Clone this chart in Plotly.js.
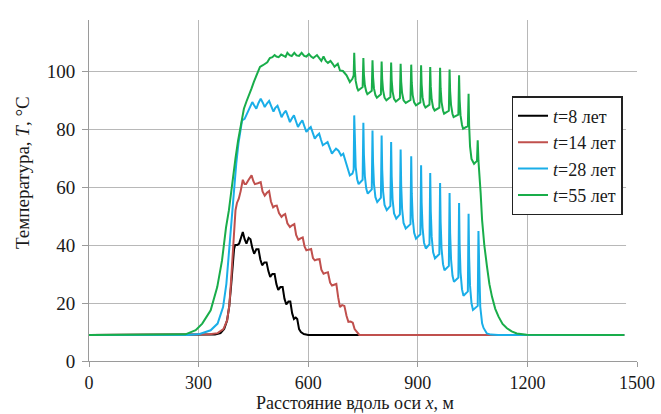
<!DOCTYPE html>
<html>
<head>
<meta charset="utf-8">
<script src="https://cdn.plot.ly/plotly-3.0.1.min.js"></script>
<style>
html,body{margin:0;padding:0;background:#fff;}
#chart{width:661px;height:414px;}
svg text{font-family:"Liberation Serif","DejaVu Serif",serif !important;}
</style>
</head>
<body>
<div id="chart"></div>
<script>
// t = 8 years
const x8 = [0,300,345,360,370,378,384,389,393,397,400,406,411,416,421,426,431,437,442,447,452,458,464,469,474,480,486,491,496,502,508,513,518,524,530,535,540,546,551,556,561,566,570,575,580,588,600,1465];
const t8 = [9,9,9.1,9.6,11,14,19,26,33,38.5,40,40,40.5,43,44.5,42,40.5,42.5,42,39,37,38.5,38.5,35,33,34,34,31,29,30,30,26.5,24.5,25.5,25.5,21.5,19.5,20.5,20.5,16.5,14.5,15,14.5,11,10,9.3,9,9];

// t = 14 years
const x14 = [0,300,330,352,368,378,384,388,392,395,398,401,405,410,415,421,426,430,437,445,450,454,462,470,475,481,487,493,498,504,509,514,520,527,532,537,543,550,556,562,567,573,579,585,590,595,601,608,613,618,624,631,636,642,648,654,660,665,671,677,682,687,693,699,705,710,716,722,727,733,740,1465];
const t14 = [9,9,9.2,9.6,11,14,19,26,35,43,48,52,54.5,56,58.5,62.5,61,61,62.5,64,62,61,61.3,61.7,58.5,57,58,58.6,55,53,53.5,53.6,51,49.7,50.3,50.7,47.5,46.2,46.8,47.2,43.5,41.8,42.3,42.6,39.5,38.2,38.4,38.6,35.5,34.7,35,35.1,31.5,30.1,30.4,30.6,27,26,26.3,26.6,22,18.6,19.3,19,15.5,13.5,13.6,13.2,11,10,9,9];

// t = 28 years
const x28 = [0,270,303,333,352,367,376,385,391,397,403,409,414,419,426,433,440,447,452,458,464,470,476,481,487,493,499,505,510,516,522,527,533,539,545,550,556,561,567,572,578,584,590,595,601,607,613,618,624,630,635,640,647,653,659,665,671,676,683,690,696,705,714,721,724.5,
726,727.5,730,734,738,749,
751,752.5,755,759,763,774,
776,777.5,780,784,789,799,
801,802.5,805,809,815,825,
827,828.5,831,835,841,851,
853,854.5,857,861,867,880,
882,883.5,886,890,895,907,
909,910.5,913,917,922,932,
934,935.5,938,942,947,959,
961,962.5,965,969,973,985,
987,988.5,991,995,999,1011,
1013,1014.5,1017,1021,1025,1037,
1039,1040.5,1043,1047,1051,1064,
1066,1068,1071,1076,1080,1089,1100,1120,1465];
const t28 = [9,9,9.3,10.6,12.9,18.6,26.6,40,52,61,68,75,80,83,83.5,85.3,87.5,89.3,88.2,87,89,90.5,89,87.6,88.8,89.7,87.8,86,87.3,88,86,84.1,85.4,86.3,84.2,82.4,83.8,84.7,82.5,80.7,82,83,80.8,79,80,80.7,78.5,76.7,77.7,78.4,76.3,74.4,75,75.5,73.5,71.5,72.5,73.2,72.5,70.9,71.5,68,64,64.6,66,
84.7,74,66.9,62.7,61,62.5,
82.2,71.2,63.8,59.4,57.7,59.2,
79.5,68.4,61,56.5,54.8,56.3,
77.8,66.2,58.5,53.8,52,53.5,
75.5,63.6,55.7,50.9,49.1,50.6,
72.9,60.7,52.5,47.6,45.7,47.2,
70.6,57.8,49.3,44.2,42.2,43.7,
67.5,54.6,46,40.8,38.8,40.3,
64.8,51.6,42.8,37.5,35.4,36.9,
61.4,47.9,38.8,33.4,31.3,32.8,
57.9,44.1,35,29.4,27.3,28.8,
54.5,40.1,30.5,24.7,22.5,24,
50.8,35.9,25.9,19.9,17.6,19,
44.8,33,18.7,13,11.4,9.5,9.1,9,9];

// t = 55 years
const x55 = [0,240,264,292,310,333,351,364,375,383,392,401,408,415,424,431,438,445,451,458,464,468,476,482,488,495,502,508,513,519,526,533,538,543,549,555,562,568,575,582,589,595,602,608,614,624,630,636,642,648,654,661,667,672,681,687,695,705,714,721,724.5,
726,727.5,730,734,737,749,
751,752.5,755,759,762,774,
776,777.5,780,784,788,799,
801,802.5,805,809,814,825,
827,828.5,831,835,840,851,
853,854.5,857,861,867,880,
882,883.5,886,890,895,907,
909,910.5,913,917,921,932,
934,935.5,938,942,946,959,
961,962.5,965,969,972,985,
987,988.5,991,995,998,1011,
1013,1014.5,1017,1021,1024,1037,
1039,1040.5,1043,1047,1054,1062,
1064,1066,1068,1072,1076,1082,1089.5,1096,1103,1112,1121,1132,1144,1157,1171,1185,1198,1465];
const t55 = [9,9,9.2,10.6,12.9,17.5,25.5,34.6,46,52,62,70,76,80.5,87,89.5,91.6,94,96.2,98.5,100.5,101.4,102,102.5,103,104.5,104.8,105.5,105,104.8,105.7,105.2,104.9,106.3,105.5,105.2,106.3,105.4,105.2,106.3,105.2,105,105.9,105,104.5,105.5,104.3,103.5,105,103.5,102.8,103.5,102.5,101.5,102.5,100.2,100,98.5,96.2,97.3,98.5,
106.3,100.5,96.6,94.2,93.3,94.5,
104.5,98.9,95.1,92.9,92,93.2,
103.7,97.9,94,91.7,90.8,92,
103.3,97.3,93.3,90.8,89.9,91,
102.9,96.9,92.9,90.4,89.5,90.6,
102.5,96.4,92.4,89.9,89,90,
102.2,95.9,91.7,89.2,88.2,89.2,
102,95.4,91,88.4,87.4,88.4,
101.4,94.7,90.2,87.4,86.4,87.4,
101.1,94,89.3,86.4,85.3,86.3,
100.5,93.1,88.2,85.2,84.1,85,
98.5,90.2,84.7,81.4,80.1,81,
92.2,81.3,74,69.7,68,69,
76.1,69,66,58,48.6,40,32.5,26.5,22.2,18,15.3,12.8,11.3,10.2,9.5,9.2,9.05,9];

const names = ['<i>t</i>=8 лет', '<i>t</i>=14 лет', '<i>t</i>=28 лет', '<i>t</i>=55 лет'];
const colors = ['#000000', '#c0504d', '#1aaee8', '#19ad4a'];
const xs = [x8, x14, x28, x55];
const ts = [t8, t14, t28, t55];
const xTicks = [0, 300, 600, 900, 1200, 1500];
const yTicks = [0, 20, 40, 60, 80, 100];
const xTitle = 'Расстояние вдоль оси <i>x</i>, м';
const yTitle = 'Температура, <i>T</i>, °C';

const FONT = '"Liberation Serif", "DejaVu Serif", serif';
const TXT = '#1a1a1a';

const traces = xs.map((x, i) => ({
  x: x, y: ts[i], type: 'scatter', mode: 'lines', name: names[i],
  line: {color: colors[i], width: 2}
}));

const layout = {
  width: 661, height: 414,
  margin: {l: 89, r: 24, t: 20, b: 53},
  paper_bgcolor: '#ffffff', plot_bgcolor: '#ffffff',
  font: {family: FONT, color: TXT, size: 18},
  showlegend: true,
  legend: {
    x: 0.771, y: 0.777, xanchor: 'left', yanchor: 'top',
    bgcolor: '#ffffff', bordercolor: '#222', borderwidth: 1.5,
    font: {family: FONT, size: 18, color: TXT},
    itemwidth: 30, tracegroupgap: 0
  },
  xaxis: {
    range: [0, 1500], tickvals: xTicks, ticktext: xTicks.map(String),
    showgrid: true, gridcolor: '#b8b8b8', gridwidth: 1,
    showline: true, linecolor: '#9a9a9a', linewidth: 1,
    ticks: 'outside', ticklen: 5, tickcolor: '#9a9a9a',
    zeroline: false, ticklabelstandoff: 0,
    tickfont: {family: FONT, size: 18, color: TXT}
  },
  yaxis: {
    range: [0, 117.6], tickvals: yTicks, ticktext: yTicks.map(String),
    showgrid: true, gridcolor: '#b8b8b8', gridwidth: 1,
    showline: true, linecolor: '#9a9a9a', linewidth: 1,
    ticks: 'outside', ticklen: 6, tickcolor: '#9a9a9a',
    zeroline: false, ticklabelstandoff: 3,
    tickfont: {family: FONT, size: 19, color: TXT}
  },
  annotations: [
    {text: xTitle, xref: 'paper', yref: 'paper', x: 0.486, y: -0.1232,
     xanchor: 'center', yanchor: 'middle', showarrow: false,
     font: {family: FONT, size: 18, color: TXT}},
    {text: yTitle, xref: 'paper', yref: 'paper', x: -0.1224, y: 0.554,
     xanchor: 'center', yanchor: 'middle', showarrow: false, textangle: -90,
     font: {family: FONT, size: 19, color: TXT}}
  ],
  shapes: [{
    type: 'rect', layer: 'between', xref: 'x', yref: 'y',
    x0: 1470, x1: 1530, y0: 0.6, y1: 92.4,
    fillcolor: '#ffffff', line: {width: 0}
  }]
};

function forceSerif() {
  document.querySelectorAll('text, tspan').forEach(function (el) {
    el.style.setProperty('font-family', '"Liberation Serif", "DejaVu Serif", serif', 'important');
  });
}

Plotly.newPlot('chart', traces, layout, {displayModeBar: false, staticPlot: true}).then(forceSerif);
</script>
</body>
</html>
